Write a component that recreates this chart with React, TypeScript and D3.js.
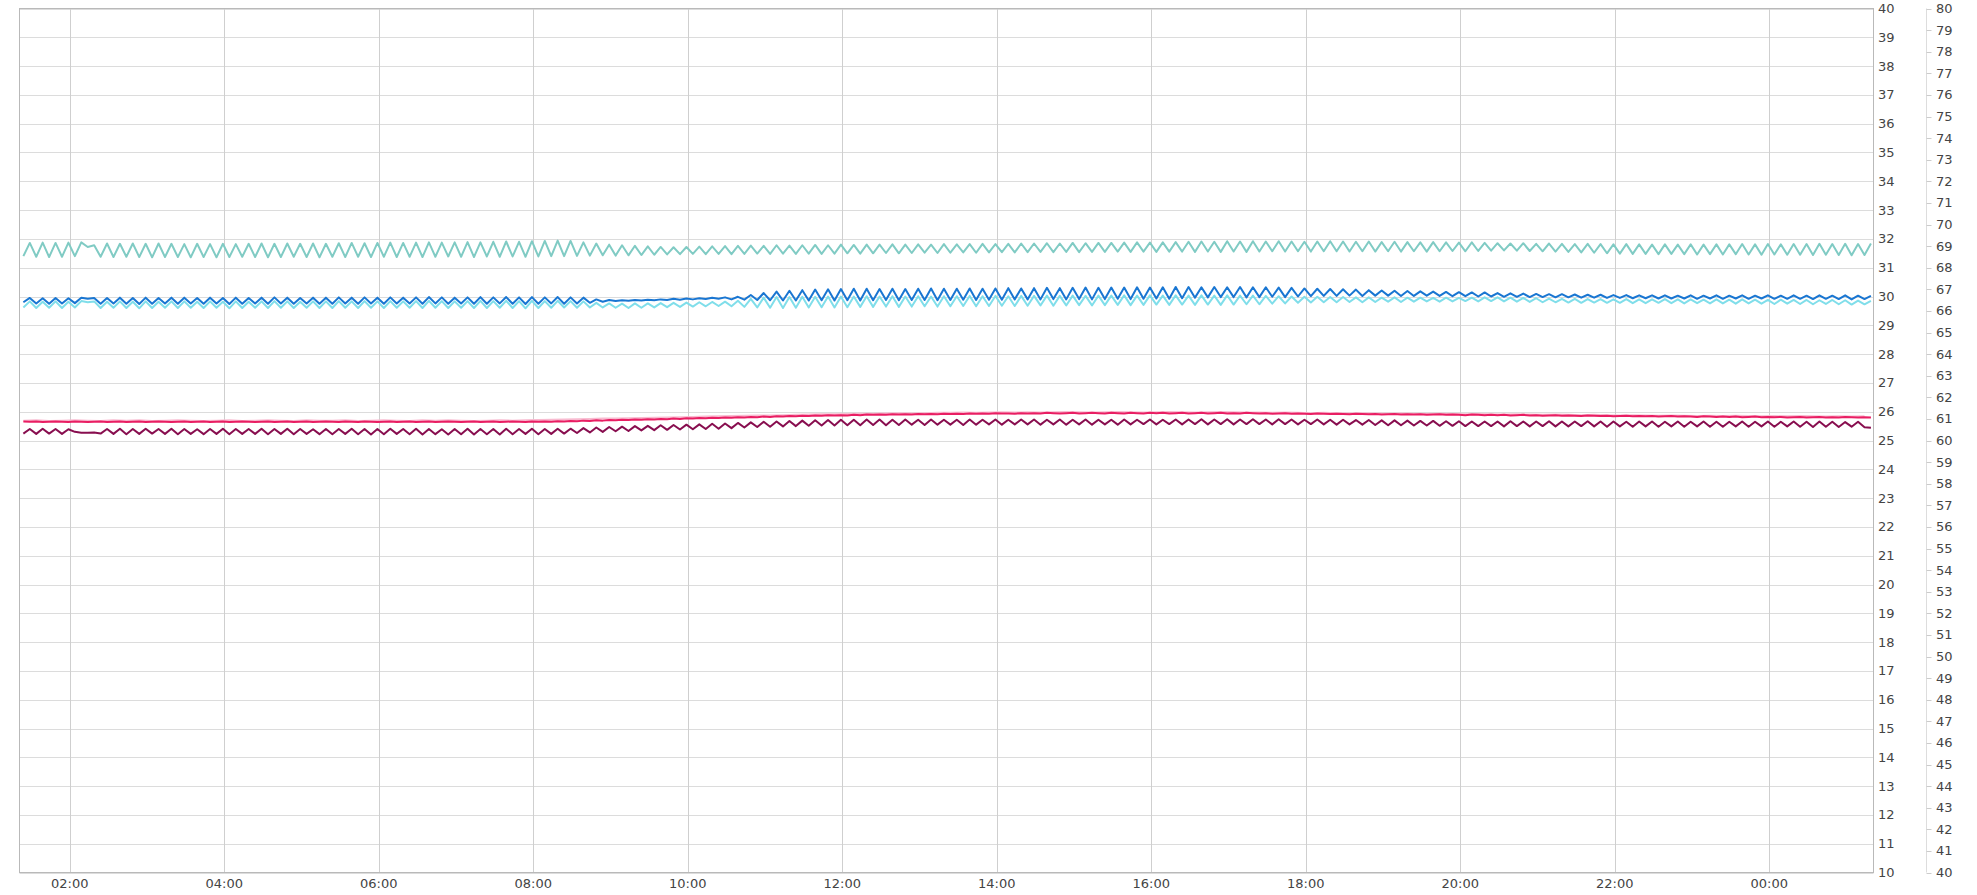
import React from "react";
import * as d3 from "d3";

// ---- data (5-minute samples from 01:24, 288 points; light pink every 10 min) ----
const teal = [
31.40,31.86,31.38,31.87,31.37,31.86,31.38,31.87,31.40,31.88,31.72,31.78,
31.38,31.84,31.37,31.83,31.38,31.84,31.37,31.83,31.36,31.84,31.37,31.83,
31.37,31.82,31.36,31.83,31.37,31.82,31.36,31.83,31.37,31.82,31.38,31.83,
31.37,31.84,31.36,31.83,31.37,31.84,31.38,31.83,31.37,31.84,31.36,31.83,
31.38,31.85,31.37,31.86,31.38,31.85,31.37,31.86,31.38,31.87,31.37,31.86,
31.38,31.87,31.37,31.88,31.38,31.87,31.39,31.88,31.38,31.89,31.37,31.88,
31.39,31.90,31.38,31.91,31.39,31.90,31.38,31.92,31.39,31.93,31.40,31.94,
31.40,31.93,31.41,31.88,31.42,31.84,31.43,31.80,31.42,31.78,31.43,31.76,
31.44,31.74,31.45,31.72,31.46,31.71,31.47,31.72,31.48,31.73,31.47,31.74,
31.48,31.75,31.47,31.76,31.48,31.77,31.49,31.76,31.48,31.78,31.49,31.77,
31.48,31.78,31.49,31.79,31.48,31.78,31.49,31.80,31.50,31.79,31.49,31.80,
31.50,31.80,31.51,31.81,31.50,31.80,31.51,31.81,31.52,31.80,31.51,31.82,
31.52,31.81,31.53,31.82,31.52,31.83,31.53,31.82,31.54,31.83,31.53,31.84,
31.54,31.84,31.55,31.85,31.54,31.84,31.55,31.86,31.54,31.85,31.55,31.86,
31.55,31.86,31.56,31.87,31.55,31.88,31.56,31.87,31.55,31.88,31.56,31.89,
31.56,31.90,31.55,31.91,31.56,31.90,31.55,31.92,31.56,31.91,31.55,31.92,
31.56,31.91,31.57,31.92,31.56,31.91,31.57,31.90,31.56,31.91,31.57,31.92,
31.57,31.91,31.56,31.90,31.57,31.91,31.56,31.89,31.57,31.90,31.56,31.89,
31.57,31.88,31.56,31.89,31.57,31.88,31.58,31.87,31.57,31.88,31.58,31.86,
31.59,31.85,31.60,31.84,31.59,31.85,31.58,31.83,31.57,31.84,31.56,31.83,
31.55,31.82,31.53,31.83,31.52,31.82,31.50,31.81,31.49,31.82,31.48,31.81,
31.48,31.80,31.47,31.81,31.48,31.80,31.47,31.81,31.46,31.80,31.47,31.81,
31.46,31.81,31.47,31.82,31.46,31.81,31.45,31.82,31.46,31.81,31.45,31.82,
31.45,31.82,31.44,31.83,31.45,31.82,31.44,31.83,31.43,31.82,31.44,31.84,
];

const darkBlue = [
29.80,29.95,29.76,29.94,29.75,29.95,29.76,29.94,29.77,29.96,29.92,29.95,
29.75,29.95,29.76,29.96,29.75,29.95,29.74,29.96,29.75,29.95,29.76,29.96,
29.75,29.96,29.76,29.95,29.75,29.96,29.76,29.95,29.74,29.96,29.75,29.95,
29.76,29.96,29.75,29.97,29.76,29.96,29.75,29.95,29.76,29.96,29.75,29.96,
29.75,29.97,29.76,29.96,29.75,29.97,29.76,29.96,29.75,29.97,29.76,29.96,
29.76,29.97,29.75,29.98,29.76,29.97,29.75,29.96,29.76,29.97,29.75,29.98,
29.75,29.97,29.76,29.98,29.75,29.97,29.74,29.98,29.75,29.97,29.76,29.98,
29.75,29.97,29.76,29.96,29.78,29.90,29.82,29.88,29.84,29.87,29.85,29.88,
29.86,29.89,29.87,29.90,29.88,29.92,29.89,29.93,29.90,29.94,29.91,29.96,
29.92,29.97,29.90,29.99,29.89,30.05,29.88,30.12,29.87,30.17,29.86,30.20,
29.86,30.22,29.86,30.24,29.87,30.25,29.86,30.26,29.87,30.27,29.86,30.27,
29.87,30.26,29.88,30.27,29.87,30.26,29.88,30.27,29.88,30.28,29.87,30.27,
29.88,30.27,29.89,30.28,29.88,30.27,29.89,30.28,29.89,30.29,29.90,30.28,
29.90,30.29,29.90,30.30,29.91,30.29,29.90,30.30,29.91,30.31,29.90,30.30,
29.91,30.31,29.92,30.31,29.91,30.32,29.92,30.31,29.93,30.32,29.92,30.33,
29.94,30.33,29.96,30.32,29.97,30.33,29.98,30.32,29.98,30.33,29.97,30.32,
29.98,30.32,29.99,30.31,29.98,30.30,30.00,30.28,30.01,30.27,30.02,30.26,
30.02,30.25,30.03,30.24,30.02,30.22,30.03,30.21,30.03,30.20,30.02,30.19,
30.02,30.18,30.03,30.17,30.02,30.16,30.01,30.15,30.01,30.14,30.00,30.14,
30.00,30.12,29.99,30.11,29.99,30.10,29.98,30.09,29.98,30.08,29.97,30.08,
29.97,30.07,29.96,30.06,29.96,30.06,29.95,30.05,29.95,30.05,29.94,30.04,
29.94,30.04,29.93,30.04,29.93,30.03,29.93,30.04,29.92,30.03,29.93,30.04,
29.92,30.03,29.93,30.04,29.92,30.03,29.93,30.04,29.92,30.03,29.92,30.04,
29.92,30.03,29.91,30.04,29.92,30.03,29.91,30.04,29.90,30.03,29.91,30.02,
];

const lightBlue = [
29.62,29.83,29.60,29.82,29.61,29.83,29.60,29.82,29.62,29.84,29.80,29.83,
29.60,29.82,29.61,29.83,29.60,29.82,29.59,29.83,29.60,29.82,29.61,29.83,
29.60,29.83,29.61,29.82,29.60,29.83,29.61,29.82,29.59,29.83,29.60,29.82,
29.61,29.83,29.60,29.84,29.61,29.83,29.60,29.82,29.61,29.83,29.60,29.83,
29.60,29.84,29.61,29.83,29.60,29.84,29.61,29.83,29.60,29.84,29.61,29.83,
29.61,29.84,29.60,29.85,29.61,29.84,29.60,29.83,29.61,29.84,29.60,29.85,
29.60,29.84,29.61,29.85,29.60,29.84,29.59,29.85,29.60,29.84,29.61,29.85,
29.62,29.84,29.61,29.83,29.62,29.78,29.62,29.76,29.61,29.75,29.60,29.76,
29.61,29.76,29.62,29.77,29.63,29.78,29.64,29.79,29.65,29.80,29.66,29.81,
29.67,29.82,29.66,29.85,29.64,29.92,29.62,29.96,29.61,29.98,29.60,29.98,
29.61,29.99,29.62,29.99,29.63,30.00,29.62,30.00,29.63,30.00,29.64,30.01,
29.64,30.00,29.65,30.01,29.64,30.00,29.65,30.01,29.66,30.00,29.65,30.01,
29.66,30.01,29.67,30.02,29.66,30.01,29.67,30.02,29.68,30.01,29.67,30.02,
29.68,30.02,29.69,30.03,29.68,30.02,29.69,30.03,29.70,30.02,29.69,30.03,
29.70,30.03,29.71,30.04,29.70,30.03,29.71,30.04,29.72,30.03,29.71,30.04,
29.72,30.03,29.71,30.04,29.72,30.03,29.71,30.04,29.72,30.03,29.73,30.03,
29.73,30.02,29.75,30.01,29.76,30.00,29.78,29.99,29.79,29.99,29.80,29.98,
29.80,29.98,29.81,29.97,29.80,29.97,29.81,29.96,29.82,29.97,29.81,29.96,
29.82,29.96,29.83,29.95,29.82,29.96,29.83,29.95,29.84,29.96,29.83,29.97,
29.84,29.97,29.83,29.96,29.82,29.95,29.81,29.94,29.80,29.93,29.80,29.92,
29.79,29.92,29.78,29.91,29.79,29.91,29.78,29.90,29.78,29.91,29.77,29.90,
29.77,29.90,29.78,29.91,29.77,29.90,29.76,29.90,29.77,29.89,29.76,29.90,
29.76,29.89,29.75,29.90,29.76,29.89,29.75,29.88,29.74,29.89,29.75,29.88,
29.74,29.88,29.73,29.87,29.74,29.88,29.73,29.87,29.72,29.86,29.73,29.85,
];

const pink = [
25.66,25.65,25.66,25.64,25.65,25.66,25.65,25.64,25.66,25.65,25.64,25.65,
25.66,25.64,25.65,25.66,25.64,25.65,25.66,25.64,25.65,25.66,25.65,25.64,
25.65,25.66,25.64,25.65,25.66,25.64,25.65,25.66,25.64,25.65,25.66,25.65,
25.64,25.65,25.66,25.64,25.65,25.66,25.64,25.65,25.66,25.64,25.65,25.66,
25.65,25.64,25.66,25.65,25.64,25.66,25.65,25.64,25.65,25.66,25.64,25.65,
25.66,25.64,25.65,25.66,25.64,25.65,25.66,25.65,25.64,25.65,25.66,25.64,
25.65,25.66,25.64,25.65,25.66,25.65,25.64,25.66,25.65,25.66,25.65,25.67,
25.66,25.68,25.67,25.69,25.68,25.70,25.69,25.71,25.70,25.72,25.71,25.73,
25.72,25.74,25.73,25.75,25.74,25.76,25.75,25.77,25.76,25.78,25.77,25.79,
25.78,25.80,25.79,25.81,25.80,25.82,25.81,25.83,25.82,25.84,25.83,25.85,
25.84,25.86,25.85,25.87,25.86,25.88,25.87,25.88,25.87,25.89,25.88,25.90,
25.89,25.90,25.89,25.91,25.90,25.91,25.90,25.92,25.91,25.92,25.91,25.93,
25.92,25.93,25.92,25.94,25.93,25.94,25.93,25.95,25.94,25.94,25.93,25.95,
25.94,25.95,25.94,25.96,25.95,25.94,25.95,25.96,25.94,25.95,25.96,25.95,
25.94,25.96,25.95,25.94,25.96,25.95,25.94,25.96,25.95,25.96,25.94,25.95,
25.96,25.94,25.95,25.96,25.94,25.95,25.96,25.94,25.95,25.94,25.96,25.95,
25.94,25.95,25.93,25.94,25.95,25.93,25.94,25.93,25.92,25.94,25.93,25.92,
25.93,25.92,25.91,25.93,25.92,25.91,25.92,25.90,25.91,25.92,25.90,25.91,
25.90,25.91,25.89,25.90,25.91,25.89,25.90,25.89,25.88,25.90,25.89,25.88,
25.89,25.88,25.89,25.87,25.88,25.89,25.87,25.88,25.86,25.87,25.88,25.86,
25.87,25.86,25.85,25.87,25.86,25.85,25.86,25.84,25.85,25.86,25.84,25.85,
25.84,25.85,25.83,25.84,25.85,25.83,25.84,25.83,25.82,25.84,25.83,25.82,
25.83,25.82,25.83,25.81,25.82,25.83,25.81,25.82,25.81,25.82,25.80,25.81,
25.82,25.80,25.81,25.82,25.80,25.81,25.80,25.82,25.81,25.80,25.81,25.80,
];

const lightPink = [
25.69,25.70,25.68,25.69,25.70,25.69,25.68,25.70,25.69,25.70,25.68,25.69,
25.70,25.69,25.68,25.69,25.70,25.68,25.69,25.70,25.69,25.68,25.70,25.69,
25.69,25.70,25.68,25.69,25.70,25.69,25.68,25.70,25.69,25.70,25.69,25.68,
25.69,25.70,25.69,25.70,25.71,25.72,25.73,25.74,25.75,25.76,25.76,25.77,
25.78,25.79,25.80,25.81,25.82,25.83,25.84,25.85,25.86,25.87,25.87,25.88,
25.89,25.90,25.91,25.91,25.92,25.93,25.93,25.94,25.95,25.94,25.95,25.96,
25.96,25.97,25.96,25.97,25.98,25.97,25.98,25.97,25.98,25.99,25.98,25.97,
25.98,25.99,25.98,25.97,25.98,25.99,25.98,25.97,25.98,25.99,25.98,25.97,
25.97,25.96,25.97,25.96,25.95,25.96,25.95,25.94,25.95,25.94,25.93,25.94,
25.93,25.92,25.93,25.92,25.91,25.92,25.91,25.90,25.91,25.90,25.89,25.90,
25.89,25.88,25.89,25.88,25.87,25.88,25.87,25.86,25.87,25.86,25.85,25.86,
25.85,25.86,25.85,25.84,25.85,25.84,25.85,25.84,25.83,25.84,25.83,25.84,
];

const purple = [
25.24,25.40,25.23,25.41,25.24,25.40,25.23,25.39,25.30,25.27,25.27,25.28,
25.24,25.40,25.23,25.41,25.22,25.40,25.23,25.41,25.24,25.40,25.23,25.41,
25.22,25.40,25.23,25.39,25.22,25.40,25.23,25.41,25.22,25.40,25.23,25.40,
25.23,25.41,25.22,25.40,25.23,25.41,25.22,25.40,25.23,25.39,25.22,25.40,
25.22,25.40,25.23,25.41,25.22,25.40,25.21,25.40,25.22,25.41,25.23,25.40,
25.22,25.41,25.21,25.40,25.22,25.39,25.21,25.40,25.22,25.41,25.21,25.40,
25.22,25.40,25.21,25.41,25.22,25.40,25.23,25.41,25.22,25.40,25.23,25.41,
25.24,25.41,25.26,25.43,25.28,25.45,25.30,25.47,25.32,25.48,25.33,25.50,
25.35,25.51,25.36,25.53,25.37,25.54,25.38,25.55,25.39,25.56,25.40,25.58,
25.41,25.59,25.43,25.61,25.45,25.63,25.47,25.65,25.48,25.66,25.49,25.68,
25.50,25.69,25.51,25.70,25.52,25.71,25.52,25.72,25.53,25.72,25.53,25.73,
25.54,25.73,25.53,25.72,25.54,25.73,25.55,25.72,25.54,25.73,25.55,25.72,
25.55,25.72,25.54,25.73,25.55,25.72,25.56,25.73,25.55,25.72,25.56,25.73,
25.56,25.73,25.55,25.72,25.56,25.73,25.55,25.72,25.56,25.73,25.55,25.72,
25.56,25.72,25.55,25.73,25.56,25.72,25.57,25.73,25.56,25.72,25.57,25.73,
25.56,25.73,25.57,25.74,25.56,25.73,25.57,25.74,25.56,25.73,25.57,25.74,
25.57,25.73,25.56,25.74,25.57,25.73,25.56,25.72,25.57,25.73,25.56,25.72,
25.55,25.72,25.56,25.71,25.55,25.71,25.54,25.70,25.53,25.70,25.53,25.69,
25.52,25.68,25.52,25.68,25.51,25.67,25.51,25.67,25.50,25.66,25.50,25.66,
25.50,25.66,25.49,25.67,25.50,25.66,25.49,25.66,25.50,25.67,25.49,25.66,
25.49,25.66,25.50,25.67,25.49,25.66,25.48,25.66,25.49,25.65,25.48,25.66,
25.49,25.66,25.48,25.65,25.49,25.66,25.48,25.65,25.49,25.66,25.48,25.65,
25.48,25.65,25.49,25.66,25.48,25.65,25.49,25.66,25.48,25.65,25.49,25.66,
25.48,25.65,25.47,25.66,25.48,25.65,25.47,25.64,25.48,25.65,25.46,25.44,
];

const leftTicks = d3.range(10, 41);
const rightTicks = d3.range(40, 81);
const domainStart = new Date(2024, 0, 1, 1, 21);
const domainEnd = new Date(2024, 0, 2, 1, 21);
const dataStart = new Date(2024, 0, 1, 1, 24);

const seriesDefs = [
  { name: "teal", values: teal, stepMin: 5, color: "#80cbc4" },
  { name: "lightBlue", values: lightBlue, stepMin: 5, color: "#80deea" },
  { name: "darkBlue", values: darkBlue, stepMin: 5, color: "#1976d2" },
  { name: "lightPink", values: lightPink, stepMin: 10, color: "#f8bbd0" },
  { name: "pink", values: pink, stepMin: 5, color: "#e91e63" },
  { name: "purple", values: purple, stepMin: 5, color: "#880e4f" },
];

export default function App() {
  const W = 1977, H = 895;
  const L = 19.5, T = 8.5, R = 1873.5, B = 872.5;
  const x = d3.scaleTime().domain([domainStart, domainEnd]).range([L, R]);
  const y = d3.scaleLinear().domain([10, 40]).range([B, T]);
  const y2 = d3.scaleLinear().domain([40, 80]).range([B, T]);
  const xTicks = x.ticks(d3.timeHour.every(2));
  const fmt = d3.timeFormat("%H:%M");
  const font = "'DejaVu Sans', sans-serif";
  const ax2 = 1926.5;

  const lines = seriesDefs.map((s) => {
    const pts = s.values.map((v, i) => [
      x(new Date(dataStart.getTime() + i * s.stepMin * 60000)),
      y(v),
    ] as [number, number]);
    return { ...s, d: d3.line()(pts) || "" };
  });

  return (
    <svg width={W} height={H} style={{ position: "absolute", left: 0, top: 0, display: "block" }}>
      <rect x={0} y={0} width={W} height={H} fill="#fff" />
      {leftTicks.map((t) => (
        <line key={"h" + t} x1={L} x2={R} y1={Math.round(y(t)) + 0.5} y2={Math.round(y(t)) + 0.5} stroke="#dcdcdc" strokeWidth={1} />
      ))}
      {xTicks.map((t, i) => (
        <line key={"v" + i} x1={Math.round(x(t)) + 0.5} x2={Math.round(x(t)) + 0.5} y1={T} y2={B} stroke="#cfcfcf" strokeWidth={1} />
      ))}
      <rect x={L} y={T} width={R - L} height={B - T} fill="none" stroke="#b9b9b9" strokeWidth={1} />
      <g clipPath="url(#clip)">
        {lines.map((s) => (
          <path key={s.name} d={s.d} fill="none" stroke={s.color} strokeWidth={2} strokeLinejoin="round" />
        ))}
      </g>
      <defs>
        <clipPath id="clip">
          <rect x={L} y={T - 2} width={R - L} height={B - T + 4} />
        </clipPath>
      </defs>
      {leftTicks.map((t) => (
        <text key={"l" + t} x={1878} y={y(t)} dy="0.35em" fontFamily={font} fontSize={13} fill="#444">
          {t}
        </text>
      ))}
      <line x1={ax2} x2={ax2} y1={T} y2={B} stroke="#dddddd" strokeWidth={1} />
      {rightTicks.map((t) => (
        <g key={"r" + t}>
          <line x1={ax2} x2={ax2 + 5} y1={Math.round(y2(t)) + 0.5} y2={Math.round(y2(t)) + 0.5} stroke="#cccccc" strokeWidth={1} />
          <text x={1936} y={y2(t)} dy="0.35em" fontFamily={font} fontSize={13} fill="#444">
            {t}
          </text>
        </g>
      ))}
      {xTicks.map((t, i) => (
        <text key={"xt" + i} x={x(t)} y={888} textAnchor="middle" fontFamily={font} fontSize={13} fill="#444">
          {fmt(t)}
        </text>
      ))}
    </svg>
  );
}
